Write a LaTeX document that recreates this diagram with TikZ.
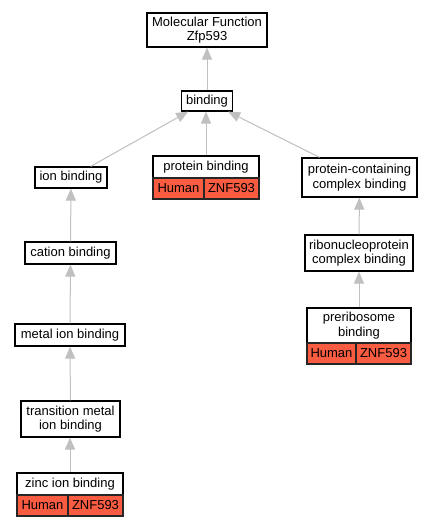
\documentclass[tikz,border=0pt]{standalone}
\usepackage{fontspec}
\setmainfont{Liberation Sans}
\usetikzlibrary{arrows.meta}
\definecolor{edgegray}{RGB}{192,192,192}
\definecolor{annred}{RGB}{250,92,66}
\begin{document}
\begin{tikzpicture}[x=1pt,y=-1pt, font=\fontsize{13}{14.5}\selectfont,
 term/.style={draw=black, line width=1.2pt, fill=white, inner sep=0pt, align=center},
 ann/.style={draw=black!85, line width=1.2pt, fill=annred, inner sep=0pt},
 edge/.style={draw=edgegray, line width=1pt, -{Triangle[length=12pt,width=10pt,fill=edgegray]}}]
\useasboundingbox[fill=white] (0,0) rectangle (432,528);

\node[term, minimum width=120pt, minimum height=34pt] (mf) at (207,30) {Molecular Function\\Zfp593};
\node[term, minimum width=51pt, minimum height=20pt] (bind) at (207,101) {binding};
\node[term, minimum width=72pt, minimum height=21pt] (ion) at (71,177.5) {ion binding};
\node[term, minimum width=106pt, minimum height=22pt] (pb) at (206,167) {protein binding};
\node[ann, minimum width=51pt, minimum height=21pt] (pbh) at (178.5,188.5) {Human};
\node[ann, minimum width=55pt, minimum height=21pt] (pbz) at (231.5,188.5) {ZNF593};
\node[term, minimum width=115pt, minimum height=39pt] (pc) at (359.5,177.5) {protein-containing\\complex binding};
\node[term, minimum width=91pt, minimum height=22pt] (cat) at (70.5,253) {cation binding};
\node[term, minimum width=108pt, minimum height=36pt] (rib) at (359,253) {ribonucleoprotein\\complex binding};
\node[term, minimum width=110pt, minimum height=22pt] (met) at (70,335) {metal ion binding};
\node[term, minimum width=104pt, minimum height=35pt] (pre) at (359,325.5) {preribosome\\binding};
\node[ann, minimum width=49pt, minimum height=21pt] (preh) at (331.5,353.5) {Human};
\node[ann, minimum width=55pt, minimum height=21pt] (prez) at (383.5,353.5) {ZNF593};
\node[term, minimum width=99pt, minimum height=36pt] (tm) at (70.5,419) {transition metal\\ion binding};
\node[term, minimum width=106pt, minimum height=22pt] (zn) at (70,484) {zinc ion binding};
\node[ann, minimum width=51pt, minimum height=21pt] (znh) at (42.5,505.5) {Human};
\node[ann, minimum width=55pt, minimum height=21pt] (znz) at (95.5,505.5) {ZNF593};

\draw[edge] (bind) -- (mf);
\draw[edge] (ion) -- (bind);
\draw[edge] (pb.north) -- (pb.north |- bind.south);
\draw[edge] (pc) -- (bind);
\draw[edge] (cat) -- (ion);
\draw[edge] (met) -- (cat);
\draw[edge] (tm) -- (met);
\draw[edge] (zn.north) -- (zn.north |- tm.south);
\draw[edge] (rib) -- (pc);
\draw[edge] (pre.north) -- (pre.north |- rib.south);
\end{tikzpicture}
\end{document}
